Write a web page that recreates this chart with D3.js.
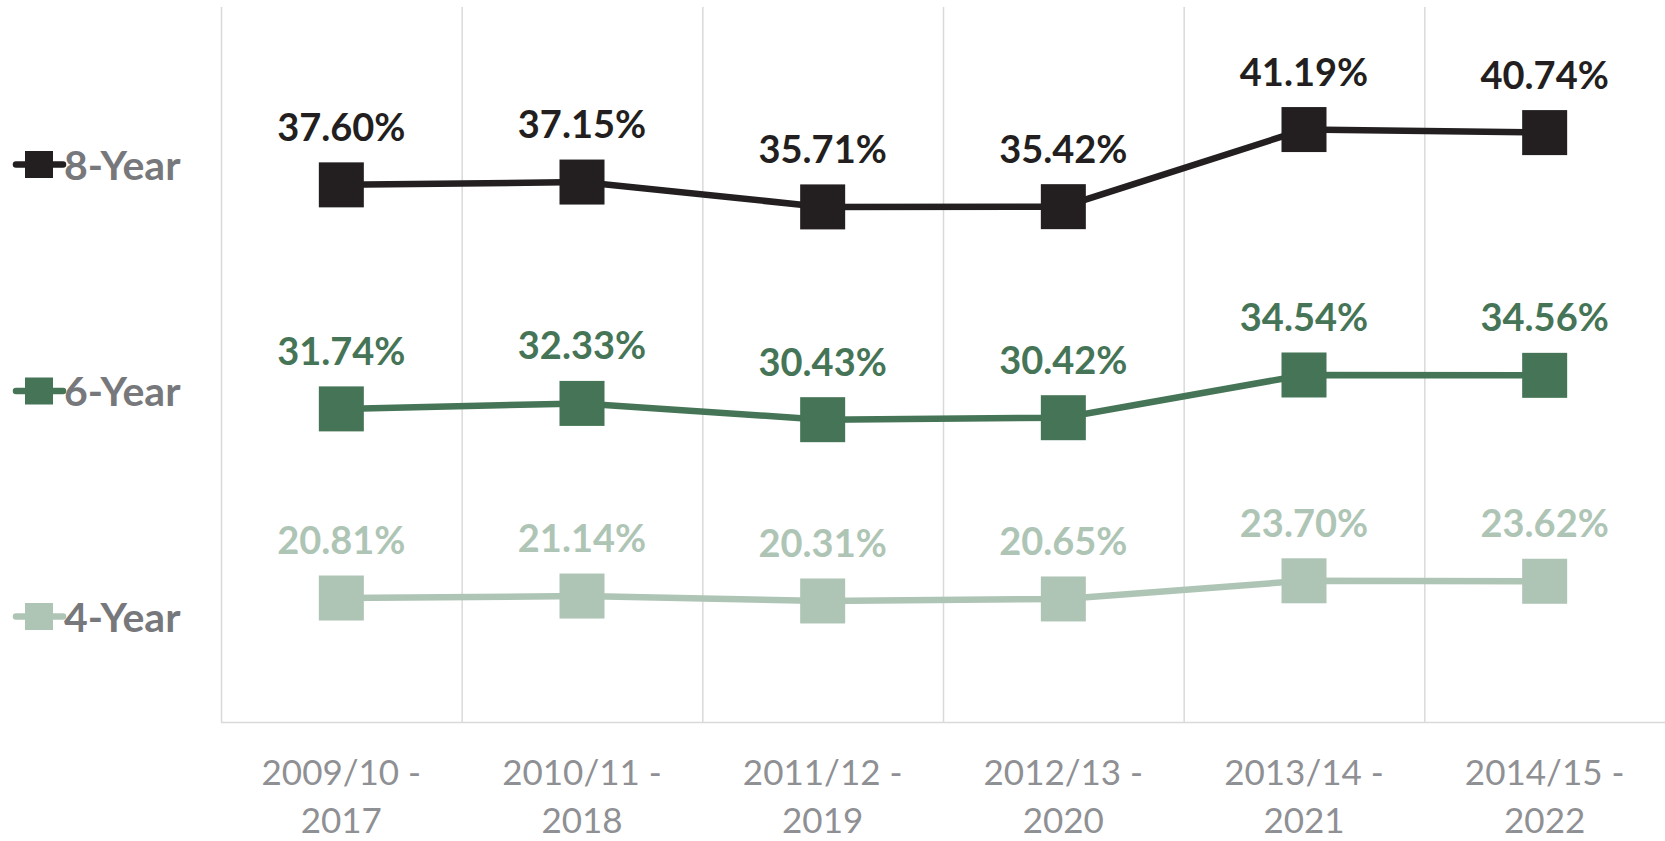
<!DOCTYPE html>
<html>
<head>
<meta charset="utf-8">
<script src="https://cdn.jsdelivr.net/npm/d3@7"></script>
<style>
  body { margin: 0; background: #fff; }
  svg { display: block; font-family: Lato, "Open Sans", sans-serif; }
</style>
</head>
<body>
<div id="chart"></div>
<script>
// Data (stacked line chart, values in %)
const categories = ["2009/10 - 2017", "2010/11 - 2018", "2011/12 - 2019", "2012/13 - 2020", "2013/14 - 2021", "2014/15 - 2022"];
const seriesNames = ["4-Year", "6-Year", "8-Year"];
const fourYear = [20.81, 21.14, 20.31, 20.65, 23.70, 23.62];
const sixYear = [31.74, 32.33, 30.43, 30.42, 34.54, 34.56];
const eightYear = [37.60, 37.15, 35.71, 35.42, 41.19, 40.74];
const seriesColors = { "4-Year": "#aec5b5", "6-Year": "#457556", "8-Year": "#231f20" };

const width = 1665, height = 841;
const plot = { left: 221, right: 1665, top: 7, bottom: 722 };

const svg = d3.select("#chart").append("svg")
    .attr("width", width)
    .attr("height", height);

// table for d3.stack
const table = categories.map((c, i) => ({
    cat: c, "4-Year": fourYear[i], "6-Year": sixYear[i], "8-Year": eightYear[i]
}));
const stacked = d3.stack().keys(seriesNames)(table);

const x = d3.scaleBand().domain(categories).range([plot.left, plot.right]);
const y = d3.scaleLinear().domain([0, 120]).range([plot.bottom, plot.top]);
const cx = d => x(d) + x.bandwidth() / 2;

// vertical gridlines at category boundaries
svg.append("g").selectAll("line")
    .data(categories)
    .enter()
    .append("line")
    .attr("x1", d => x(d) + 0.5).attr("x2", d => x(d) + 0.5)
    .attr("y1", plot.top).attr("y2", plot.bottom)
    .attr("stroke", "#d9d9d9").attr("stroke-width", 1.5);

// bottom axis line
svg.append("line")
    .attr("x1", plot.left).attr("x2", plot.right)
    .attr("y1", plot.bottom + 0.5).attr("y2", plot.bottom + 0.5)
    .attr("stroke", "#d9d9d9").attr("stroke-width", 1.5);

// category labels on two lines
const catLabels = svg.append("g").selectAll("text")
    .data(categories)
    .enter()
    .append("text")
    .attr("text-anchor", "middle")
    .attr("fill", "#8f9094")
    .style("font-size", "35px");
catLabels.each(function (d) {
    const parts = d.split(" - ");
    const t = d3.select(this);
    t.append("tspan").attr("x", cx(d)).attr("y", 785).text(parts[0] + " -");
    t.append("tspan").attr("x", cx(d)).attr("y", 833).text(parts[1]);
});

// lines, markers, labels
const line = d3.line()
    .x(d => cx(d.data.cat))
    .y(d => y(d[1]));

const markerSize = 45;
stacked.forEach(layer => {
    const color = seriesColors[layer.key];
    const g = svg.append("g");
    g.append("path")
        .datum(layer)
        .attr("d", line)
        .attr("fill", "none")
        .attr("stroke", color)
        .attr("stroke-width", 6.5);
    g.selectAll("rect")
        .data(layer)
        .enter()
        .append("rect")
        .attr("x", d => cx(d.data.cat) - markerSize / 2)
        .attr("y", d => y(d[1]) - markerSize / 2)
        .attr("width", markerSize)
        .attr("height", markerSize)
        .attr("fill", color);
    g.selectAll("text")
        .data(layer)
        .enter()
        .append("text")
        .attr("x", d => cx(d.data.cat))
        .attr("y", d => y(d[1]) - 44)
        .attr("text-anchor", "middle")
        .attr("fill", color)
        .style("font-size", "38px")
        .style("font-weight", "bold")
        .text(d => d.data[layer.key].toFixed(2) + "%");
});

// legend on the left
const legendY = { "8-Year": 164.5, "6-Year": 391, "4-Year": 616.5 };
const legend = svg.append("g").selectAll("g")
    .data(seriesNames)
    .enter()
    .append("g")
    .attr("transform", d => `translate(0, ${legendY[d]})`);
legend.append("line")
    .attr("x1", 16).attr("x2", 63)
    .attr("stroke", d => seriesColors[d])
    .attr("stroke-width", 6.5)
    .attr("stroke-linecap", "round");
legend.append("rect")
    .attr("x", 25).attr("y", -13.5)
    .attr("width", 28).attr("height", 27)
    .attr("fill", d => seriesColors[d]);
legend.append("text")
    .attr("x", 64).attr("y", 15)
    .attr("fill", "#77787b")
    .style("font-size", "41px")
    .style("font-weight", "bold")
    .text(d => d);
</script>
</body>
</html>
